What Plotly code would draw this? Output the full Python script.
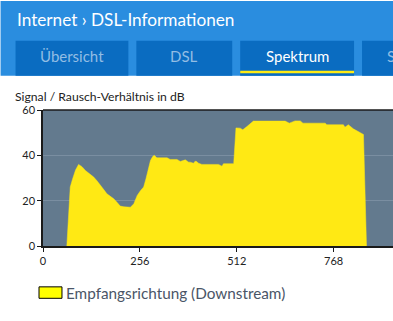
import plotly.graph_objects as go

carriers = [63, 72, 78, 86, 94, 103, 112, 123, 134, 143, 152, 160, 169, 178, 187, 196, 204, 214, 231, 240, 249, 258, 266, 272, 279, 284, 290, 294, 301, 328, 336, 354, 363, 376, 385, 389, 398, 402, 407, 411, 420, 464, 473, 477, 504, 510, 521, 528, 539, 556, 640, 651, 666, 680, 687, 746, 750, 794, 798, 807, 820, 838, 847, 855]
snr = [0, 26, 29.5, 33.5, 36, 35, 33.3, 32, 30.4, 28.7, 27, 25, 23, 22, 20.8, 19.2, 17.6, 17.3, 17.1, 18.6, 22.3, 24.5, 26, 29.6, 34.8, 37.7, 39.5, 40, 38.9, 38.9, 38.2, 38.2, 37.3, 38, 37, 37, 36.5, 37.4, 37.2, 36.5, 36, 36, 35.2, 36.3, 36.3, 52.1, 52, 51.3, 52.7, 55.1, 55.1, 54.2, 55.2, 55.2, 54.2, 54.2, 53.5, 53.5, 52.4, 53.5, 51.7, 49.8, 49.2, 0]
x_ticks = [0, 256, 512, 768]
y_ticks = [0, 20, 40, 60]
tabs = ["Übersicht", "DSL", "Spektrum", "Statistik"]
series_name = "Empfangsrichtung (Downstream)"

W, H = 393, 321
L, R, T, B = 42.5, 393.0, 109.5, 246.0
FONT = "Lato"

def px(x):
    return (x - L) / (R - L)

def py(y):
    return (B - y) / (B - T)

fig = go.Figure()
fig.add_trace(go.Scatter(
    x=carriers, y=snr, mode="lines", fill="tozeroy",
    fillcolor="#ffe914", line=dict(color="#ffe914", width=0.5),
    name=series_name, showlegend=False, hoverinfo="skip"))

shapes = []
shapes.append(dict(type="rect", xref="paper", yref="paper", x0=px(0), x1=px(W), y0=py(0), y1=py(75),
                   fillcolor="#2a8ddf", line=dict(width=0), layer="below"))
tab_x = [(15, 128), (136, 232), (240, 354), (362, 476)]
for (a, b) in tab_x:
    shapes.append(dict(type="rect", xref="paper", yref="paper", x0=px(a), x1=px(b), y0=py(40), y1=py(75),
                       fillcolor="#0a6cc1", line=dict(width=0), layer="below"))
shapes.append(dict(type="rect", xref="paper", yref="paper", x0=px(240), x1=px(354), y0=py(70), y1=py(72.7),
                   fillcolor="#ffeb14", line=dict(width=0)))
shapes.append(dict(type="rect", xref="paper", yref="paper", x0=px(38.5), x1=px(61.5), y0=py(287), y1=py(298.5),
                   fillcolor="#ffff00", line=dict(color="#000000", width=1)))
shapes.append(dict(type="line", xref="paper", yref="paper", x0=0, x1=1, y0=1, y1=1,
                   line=dict(color="#1a1a1a", width=1.5)))

annotations = []
annotations.append(dict(text="Internet \u203a DSL-Informationen", xref="paper", yref="paper",
                        x=px(14), y=py(18.5), xanchor="left", yanchor="middle", showarrow=False,
                        font=dict(family=FONT, size=17.2, color="#ffffff")))
tab_colors = ["#92bde4", "#92bde4", "#ffffff", "#92bde4"]
tab_pos = [(71.5, "center"), (184, "center"), (297, "center"), (385, "left")]
for i, t in enumerate(tabs):
    xpos, anc = tab_pos[i]
    annotations.append(dict(text=t, xref="paper", yref="paper", x=px(xpos), y=py(55),
                            xanchor=anc, yanchor="middle", showarrow=False,
                            font=dict(family=FONT, size=15, color=tab_colors[i])))
annotations.append(dict(text="Signal / Rausch-Verhältnis in dB", xref="paper", yref="paper",
                        x=px(12), y=py(95.5), xanchor="left", yanchor="middle", showarrow=False,
                        font=dict(family=FONT, size=12.2, color="#222222")))
annotations.append(dict(text=series_name, xref="paper", yref="paper",
                        x=px(64), y=py(293.5), xanchor="left", yanchor="middle", showarrow=False,
                        font=dict(family=FONT, size=15.3, color="#4a5567")))

fig.update_layout(
    width=W, height=H, margin=dict(l=L, r=W - R, t=T, b=H - B),
    paper_bgcolor="#ffffff", plot_bgcolor="#637a8e",
    shapes=shapes, annotations=annotations,
    xaxis=dict(range=[0, (R - L) / 0.37890625], tickvals=x_ticks, ticktext=[str(v) for v in x_ticks],
               showgrid=False, zeroline=False, showline=True, linecolor="#1a1a1a", linewidth=1.5,
               ticks="outside", ticklen=4, tickcolor="#1a1a1a",
               tickfont=dict(family=FONT, size=11, color="#222222")),
    yaxis=dict(range=[0, 60], tickvals=y_ticks, showgrid=True, gridcolor="#7a8ea1", gridwidth=1,
               zeroline=False, showline=True, linecolor="#1a1a1a", linewidth=1.5,
               ticks="outside", ticklen=4, tickcolor="#1a1a1a",
               tickfont=dict(family=FONT, size=11, color="#222222")),
    showlegend=False,
)

fig.write_html("out.html")
